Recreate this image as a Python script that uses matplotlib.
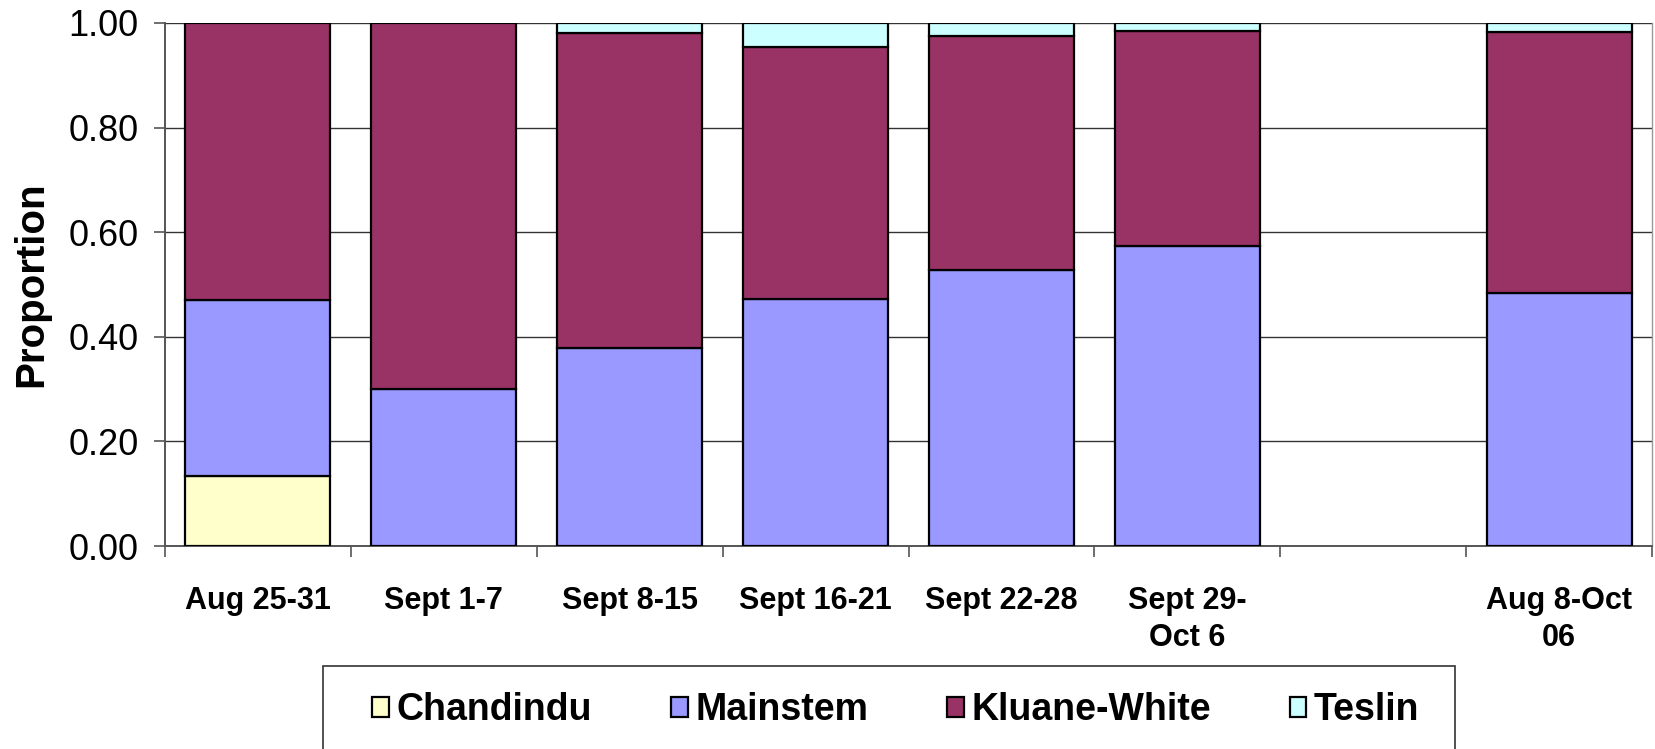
import matplotlib
matplotlib.use("Agg")
import matplotlib.pyplot as plt
from matplotlib.patches import Rectangle
import numpy as np

categories = ["Aug 25-31", "Sept 1-7", "Sept 8-15", "Sept 16-21", "Sept 22-28",
              "Sept 29-\nOct 6", "", "Aug 8-Oct\n06"]
chandindu = [0.134, 0.0, 0.0, 0.0, 0.0, 0.0, 0.0, 0.0]
mainstem = [0.337, 0.300, 0.378, 0.473, 0.527, 0.574, 0.0, 0.483]
kluane_white = [0.529, 0.700, 0.602, 0.482, 0.448, 0.411, 0.0, 0.499]
teslin = [0.0, 0.0, 0.020, 0.045, 0.025, 0.015, 0.0, 0.018]

series = [("Chandindu", chandindu, "#FFFFCC"),
          ("Mainstem", mainstem, "#9999FF"),
          ("Kluane-White", kluane_white, "#993366"),
          ("Teslin", teslin, "#CCFFFF")]
yticks = [0.0, 0.2, 0.4, 0.6, 0.8, 1.0]

plt.rcParams['font.family'] = ['Liberation Sans', 'DejaVu Sans']

W, H = 1655, 749
fig = plt.figure(figsize=(W/100, H/100), dpi=100)
ax = fig.add_axes([165/W, 1-546/H, (1652-165)/W, (546-23)/H])

x = np.arange(len(categories))
bottom = np.zeros(len(categories))
handles = []
for name, vals, col in series:
    v = np.array(vals)
    m = v > 0
    h = ax.bar(x[m], v[m], width=0.78, bottom=bottom[m], color=col, edgecolor="black",
               linewidth=1.6, label=name, zorder=3)
    handles.append(h)
    bottom += v

ax.set_xlim(-0.5, len(categories) - 0.5)
ax.set_ylim(0, 1.0)
ax.set_yticks(yticks)
ax.set_yticklabels([f"{t:.2f}" for t in yticks], fontsize=26)
ax.yaxis.grid(True, color="#333333", linewidth=1.0, zorder=0)
ax.set_axisbelow(True)
ax.tick_params(axis='y', direction='out', length=8, width=1.2, color="#555555", pad=11)

ax.set_xticks(x)
ax.set_xticklabels(categories, fontsize=22, fontweight='bold', linespacing=1.3)
ax.tick_params(axis='x', which='major', length=0, pad=29)
ax.set_xticks(np.arange(-0.5, len(categories), 1.0), minor=True)
ax.tick_params(axis='x', which='minor', direction='out', length=8, width=1.2, color="#555555")

for s in ["left", "bottom"]:
    ax.spines[s].set_color("#555555")
    ax.spines[s].set_linewidth(1.4)
ax.spines["right"].set_color("#999999")
ax.spines["right"].set_linewidth(1.0)
ax.spines["top"].set_visible(False)

ax.set_ylabel("Proportion", fontsize=29, fontweight='bold')
ax.yaxis.set_label_coords(-0.077, 0.5)

# legend frame (drawn separately, extends past the bottom edge)
frame = Rectangle((323/W, -0.05), (1455-323)/W, (1-666/H) + 0.05,
                  transform=fig.transFigure, facecolor="white",
                  edgecolor="#333333", linewidth=1.2, zorder=0)
fig.patches.append(frame)

leg = fig.legend(handles=handles, labels=[s[0] for s in series],
                 loc="center left", bbox_to_anchor=(372/W, 1-710/H),
                 ncol=4, frameon=False,
                 prop={'weight': 'bold', 'size': 27},
                 handlelength=0.45, handleheight=0.45, handletextpad=0.2,
                 columnspacing=2.1, borderpad=0.0, borderaxespad=0)

fig.savefig("out.png", dpi=100)
